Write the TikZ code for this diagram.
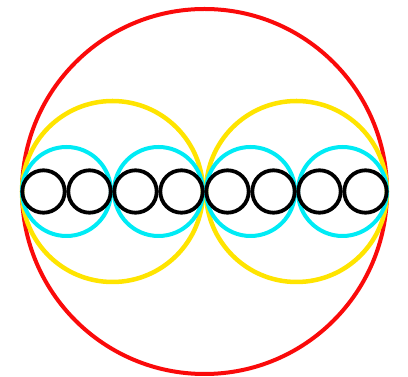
\documentclass[tikz,border=0pt]{standalone}
\usetikzlibrary{calc}
\definecolor{cred}{RGB}{250,10,10}
\definecolor{cyel}{RGB}{255,228,0}
\definecolor{ccyan}{RGB}{0,235,245}
\tikzset{
  ring/.style={line width=4pt},
}
\begin{document}
\begin{tikzpicture}[x=1pt,y=1pt]
\useasboundingbox (0,0) rectangle (408,377);
\coordinate (c) at (204.5,185.5);
% red
\draw[ring,cred] (c) circle[radius=182.5];
% yellow
\foreach \i in {0,1} {
  \draw[ring,line width=4.5pt,cyel] ($(c)+(-92+184*\i,0)$) circle[radius=90.5];
}
% cyan
\foreach \i in {0,...,3} {
  \draw[ring,ccyan] ($(c)+(-138+92*\i,0)$) circle[radius=44.5];
}
% black
\foreach \i in {0,...,7} {
  \draw[ring,line width=3.8pt,black] ($(c)+(-161+46*\i,0)$) circle[radius=21.2];
}
\end{tikzpicture}
\end{document}
